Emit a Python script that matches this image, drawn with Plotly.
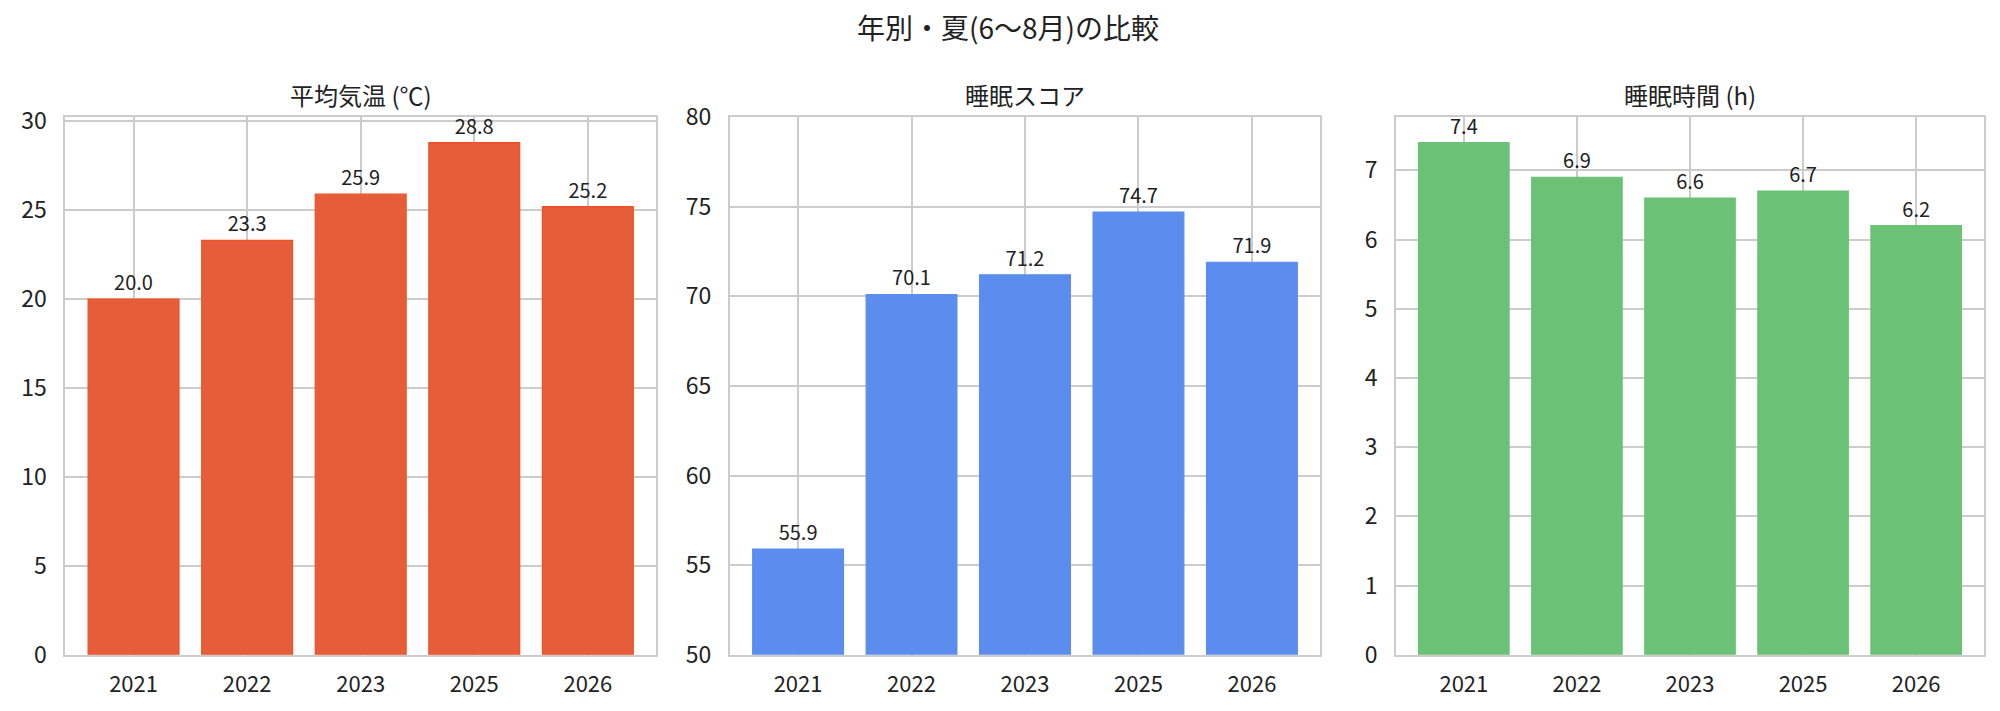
import plotly.graph_objects as go

years = ["2021", "2022", "2023", "2025", "2026"]
temp = [20.0, 23.3, 25.9, 28.8, 25.2]
score = [55.9, 70.1, 71.2, 74.7, 71.9]
sleep_h = [7.4, 6.9, 6.6, 6.7, 6.2]

titles = ["平均気温 (℃)", "睡眠スコア", "睡眠時間 (h)"]
suptitle = "年別・夏(6〜8月)の比較"

FONT = "Noto Sans CJK JP"
GRID = "#cccccc"

panels = [
    dict(vals=temp, fill="#E65D3B", edge="#F0501E", rng=[0, 30.24], dtick=5, dom=[0.0287, 0.324]),
    dict(vals=score, fill="#5B8DEE", edge="#5B8DEE", rng=[50, 80], dtick=5, dom=[0.361, 0.656]),
    dict(vals=sleep_h, fill="#6BC276", edge="#6BC276", rng=[0, 7.77], dtick=1, dom=[0.694, 0.988]),
]

fig = go.Figure()
ydom = [0.0727, 0.867]
for i, p in enumerate(panels):
    n = "" if i == 0 else str(i + 1)
    fig.add_trace(go.Bar(
        x=years, y=p["vals"], xaxis="x" + n, yaxis="y" + n,
        marker=dict(color=p["fill"], line=dict(color=p["edge"], width=1.2)),
        text=[f"{v:.1f}" for v in p["vals"]], textposition="outside",
        textfont=dict(family=FONT, size=20, color="#222222"),
        cliponaxis=False, showlegend=False,
    ))
    fig.update_layout(**{
        "xaxis" + n: dict(
            domain=p["dom"], anchor="y" + n, type="category", range=[-0.6, 4.6],
            showgrid=True, gridcolor=GRID, gridwidth=1.5,
            showline=True, linecolor=GRID, linewidth=2, mirror=True,
            ticks="", tickfont=dict(family=FONT, size=22, color="#222222"),
            ticklabelstandoff=9, zeroline=False,
        ),
        "yaxis" + n: dict(
            domain=ydom, anchor="x" + n, range=p["rng"], dtick=p["dtick"], tick0=0,
            showgrid=True, gridcolor=GRID, gridwidth=1.5,
            showline=True, linecolor=GRID, linewidth=2, mirror=True,
            ticks="", tickfont=dict(family=FONT, size=23, color="#222222"),
            ticklabelstandoff=12, zeroline=False,
        ),
    })
    fig.add_annotation(
        text=titles[i], xref="paper", yref="paper",
        x=(p["dom"][0] + p["dom"][1]) / 2, y=0.901,
        xanchor="center", yanchor="middle", showarrow=False,
        font=dict(family=FONT, size=24, color="#222222"),
    )

fig.add_annotation(
    text=suptitle, xref="paper", yref="paper", x=0.5, y=1.0,
    xanchor="center", yanchor="middle", showarrow=False,
    font=dict(family=FONT, size=28, color="#222222"),
)

fig.update_layout(
    width=2000, height=711,
    margin=dict(l=0, r=0, t=0, b=0),
    paper_bgcolor="white", plot_bgcolor="white",
    bargap=0.2,
    font=dict(family=FONT),
)

fig.write_html("out.html")
